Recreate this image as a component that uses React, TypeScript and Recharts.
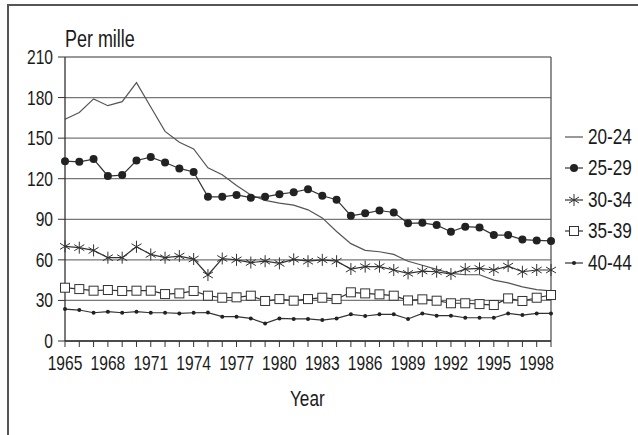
import { LineChart, Line, XAxis, YAxis, CartesianGrid, ReferenceLine } from 'recharts';

const years = [
  1965, 1966, 1967, 1968, 1969, 1970, 1971, 1972, 1973, 1974,
  1975, 1976, 1977, 1978, 1979, 1980, 1981, 1982, 1983, 1984,
  1985, 1986, 1987, 1988, 1989, 1990, 1991, 1992, 1993, 1994,
  1995, 1996, 1997, 1998, 1999,
];
const age2024 = [
  164, 169, 179, 174, 177, 191, 173, 155, 147, 142,
  128, 123, 115, 108, 104, 102, 100.5, 97, 91, 81,
  72, 67, 66, 64, 59, 56, 53, 50, 49, 49,
  45, 43, 40, 38, 37,
];
const age2529 = [
  133, 132.5, 134.5, 122, 122.7, 133.5, 136, 132, 127.6, 125,
  106.6, 106.6, 108, 106, 106.6, 108.6, 110, 112.3, 107.4, 104.5,
  92.6, 94.4, 96.5, 95, 87, 87.4, 85.7, 80.8, 84.5, 84,
  78.3, 78.3, 75, 74.4, 74,
];
const age3034 = [
  70, 69, 67, 61.6, 61.6, 69.7, 64, 61.6, 62.8, 60.6,
  48.8, 61, 60, 58, 59, 57.4, 60.4, 59, 60, 59,
  53.2, 55, 55, 52.5, 50, 51.7, 51.2, 49.5, 53.2, 53.7,
  52.5, 55.4, 51.2, 52.5, 52.5,
];
const age3539 = [
  39.4, 38.4, 37.2, 37.7, 37, 37.2, 37.2, 34.7, 35.2, 37,
  33.5, 32, 32.3, 33.5, 29.6, 31, 29.8, 31, 32, 31,
  36, 35.2, 34.5, 33.5, 30, 30.8, 29.8, 27.9, 27.9, 27.3,
  26.6, 31.5, 29.6, 32, 34,
];
const age4044 = [
  23.6, 22.9, 20.9, 21.7, 20.9, 21.7, 20.9, 20.9, 20.4, 20.9,
  21, 18, 18, 16.7, 13, 16.7, 16.3, 16.3, 15.5, 16.7,
  19.7, 18.5, 19.7, 19.7, 16.3, 20.4, 18.7, 18.7, 17.2, 17.2,
  17.2, 20.4, 19.2, 20.4, 20.4,
];
const yTicks = [0, 30, 60, 90, 120, 150, 180, 210];
const seriesNames = ['20-24', '25-29', '30-34', '35-39', '40-44'];

const data = years.map((year, i) => ({
  year,
  a: age2024[i],
  b: age2529[i],
  c: age3034[i],
  d: age3539[i],
  e: age4044[i],
}));

// no narrow font installed, so squeeze Liberation Sans horizontally
const FONT = '"Liberation Sans", Arial, sans-serif';
const SQ = 0.78;
const INK = '#333';

const Narrow = ({ children, style }: { children: any; style?: any }) => (
  <span style={{ display: 'inline-block', transform: `scaleX(${SQ})`, transformOrigin: 'left center', ...style }}>
    {children}
  </span>
);

const Marker = ({ kind, cx, cy }: { kind: string; cx: number; cy: number }) => {
  if (kind === 'b') return <circle cx={cx} cy={cy} r={4} fill="#222" stroke="none" />;
  if (kind === 'c')
    return (
      <g stroke="#333" strokeWidth={1}>
        <line x1={cx} y1={cy - 6} x2={cx} y2={cy + 6} />
        <line x1={cx - 5} y1={cy - 3} x2={cx + 5} y2={cy + 3} />
        <line x1={cx - 5} y1={cy + 3} x2={cx + 5} y2={cy - 3} />
      </g>
    );
  if (kind === 'd')
    return <rect x={cx - 4.5} y={cy - 4.5} width={9} height={9} fill="#fff" stroke="#333" strokeWidth={1} />;
  if (kind === 'e') return <circle cx={cx} cy={cy} r={2} fill="#222" stroke="none" />;
  return null;
};

const dotFor = (kind: string) => (props: any) =>
  <Marker key={`${kind}-${props.index}`} kind={kind} cx={props.cx} cy={props.cy} />;

const XTick = (props: any) => {
  const { x, y, payload } = props;
  const show = (payload.value - 1965) % 3 === 0;
  return (
    <g>
      <line x1={x} y1={y - 8} x2={x} y2={y - 2} stroke={INK} strokeWidth={1} />
      {show && (
        <text
          transform={`translate(${x},${y + 21}) scale(${SQ},1)`}
          textAnchor="middle"
          fontFamily={FONT}
          fontSize={20}
          fill="#1a1a1a"
        >
          {payload.value}
        </text>
      )}
    </g>
  );
};

const YTick = (props: any) => {
  const { x, y, payload } = props;
  return (
    <text
      transform={`translate(${x},${y + 7}) scale(${SQ},1)`}
      textAnchor="end"
      fontFamily={FONT}
      fontSize={20}
      fill="#1a1a1a"
    >
      {payload.value}
    </text>
  );
};

const LegendBox = () => (
  <div style={{ position: 'absolute', left: 562, top: 121, fontFamily: FONT, fontSize: 22, color: '#1a1a1a', whiteSpace: 'nowrap' }}>
    {['a', 'b', 'c', 'd', 'e'].map((k, i) => (
      <div key={k} style={{ display: 'flex', alignItems: 'center', height: 31.5 }}>
        <svg width={24} height={20}>
          <line x1={3} y1={10} x2={21} y2={10} stroke={k === 'a' ? '#555' : INK} strokeWidth={1.2} />
          <Marker kind={k} cx={12} cy={10} />
        </svg>
        <Narrow style={{ marginLeft: 2 }}>{seriesNames[i]}</Narrow>
      </div>
    ))}
  </div>
);

export default function App() {
  return (
    <div style={{ position: 'absolute', left: 0, top: 0, width: 638, height: 435, background: '#fff', overflow: 'hidden' }}>
      <div
        style={{
          position: 'absolute', left: 7, top: 4, right: 0, bottom: 0,
          borderTop: '2px solid #555', borderLeft: '2px solid #555',
        }}
      />
      <LineChart
        width={638}
        height={435}
        data={data}
        margin={{ top: 57, right: 87, bottom: 34, left: 0 }}
        style={{ position: 'absolute', left: 0, top: 0 }}
      >
        <CartesianGrid vertical={false} stroke="#777" strokeWidth={1.3} />
        <XAxis
          dataKey="year"
          type="number"
          domain={[1965, 1999]}
          ticks={years}
          interval={0}
          tick={<XTick />}
          tickLine={false}
          axisLine={{ stroke: INK, strokeWidth: 1.3 }}
          height={60}
        />
        <YAxis
          domain={[0, 210]}
          ticks={yTicks}
          width={65}
          tickSize={7}
          tickMargin={5}
          axisLine={{ stroke: INK, strokeWidth: 1.3 }}
          tickLine={{ stroke: INK }}
          tick={<YTick />}
        />
        <ReferenceLine x={1999} stroke="#555" strokeWidth={1.3} />
        <Line dataKey="a" stroke="#555" strokeWidth={1.2} dot={false} isAnimationActive={false} />
        <Line dataKey="b" stroke={INK} strokeWidth={1.2} dot={dotFor('b')} isAnimationActive={false} />
        <Line dataKey="c" stroke={INK} strokeWidth={1.2} dot={dotFor('c')} isAnimationActive={false} />
        <Line dataKey="d" stroke={INK} strokeWidth={1.2} dot={dotFor('d')} isAnimationActive={false} />
        <Line dataKey="e" stroke={INK} strokeWidth={1.2} dot={dotFor('e')} isAnimationActive={false} />
      </LineChart>
      <LegendBox />
      <div style={{ position: 'absolute', left: 65, top: 26, fontFamily: FONT, fontSize: 23, color: '#1a1a1a', whiteSpace: 'nowrap' }}>
        <Narrow>Per mille</Narrow>
      </div>
      <div style={{ position: 'absolute', left: 290, top: 386, fontFamily: FONT, fontSize: 22, color: '#1a1a1a', whiteSpace: 'nowrap' }}>
        <Narrow>Year</Narrow>
      </div>
    </div>
  );
}
